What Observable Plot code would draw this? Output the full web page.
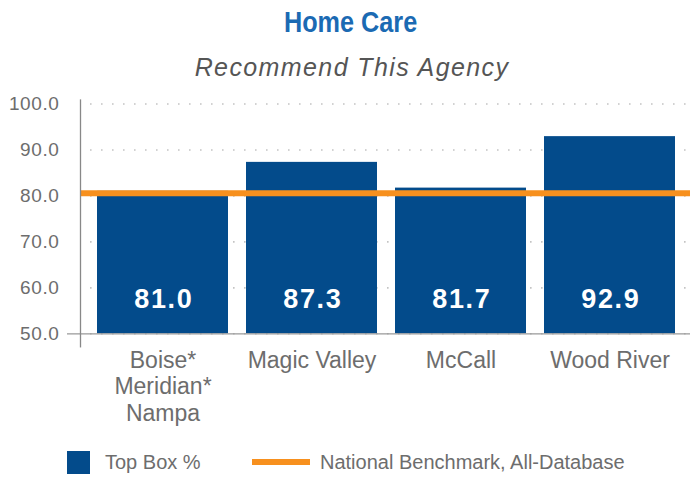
<!DOCTYPE html>
<html>
<head>
<meta charset="utf-8">
<script src="https://cdn.jsdelivr.net/npm/d3@7"></script>
<script src="https://cdn.jsdelivr.net/npm/@observablehq/plot@0.6"></script>
<style>
  html, body { margin: 0; padding: 0; background: #fff; }
  #wrap { width: 690px; height: 478px; position: relative; overflow: hidden; font-family: "Liberation Sans", Arial, Helvetica, sans-serif; }
  #title { height: 44px; line-height: 44px; text-align: center; padding-left: 12px; box-sizing: border-box;
           font-family: "Liberation Sans", Arial, sans-serif;
           font-weight: bold; font-size: 29px; color: #1b6ab3; }
  #title span { display: inline-block; transform: scaleX(0.87); transform-origin: center; }
  #subtitle { height: 46px; line-height: 46px; text-align: center; padding-left: 14px; box-sizing: border-box;
              font-style: italic; font-size: 25px; letter-spacing: 1.4px; color: #555; }
  #chart svg { display: block; }
  #chart g[aria-label="y-axis tick label"] text { letter-spacing: 0.6px; }
  #chart g[aria-label="text"] text { letter-spacing: 1.6px; }
  #legend { position: absolute; left: 0; top: 435px; width: 690px; height: 43px; font-size: 20px; color: #6d6d6d; }
  .sw { position: absolute; }
  .lt { position: absolute; top: 14px; line-height: 26px; white-space: nowrap; }
</style>
</head>
<body>
<div id="wrap">
  <div id="title"><span>Home Care</span></div>
  <div id="subtitle">Recommend This Agency</div>
  <div id="chart"></div>
  <div id="legend">
    <div class="sw" style="left:67px; top:16px; width:23px; height:23px; background:#034b8b;"></div>
    <div class="lt" style="left:105px;">Top Box %</div>
    <div class="sw" style="left:252px; top:24px; width:58px; height:6px; background:#f7901e;"></div>
    <div class="lt" style="left:320px;">National Benchmark, All-Database</div>
  </div>
</div>
<script>
const categories = ["Boise*\nMeridian*\nNampa", "Magic Valley", "McCall", "Wood River"];
const topBox = [81.0, 87.3, 81.7, 92.9];
const benchmark = 80.6;
const yTicks = [50, 60, 70, 80, 90, 100];

const data = categories.map((c, i) => ({name: c, value: topBox[i]}));

const chart = Plot.plot({
  width: 690,
  height: 345,
  marginTop: 13.5,
  marginBottom: 101.7,
  marginLeft: 80,
  marginRight: -3,
  style: {fontFamily: '"Liberation Sans", Arial, Helvetica, sans-serif', background: "transparent"},
  x: {domain: categories, paddingInner: 0.12, paddingOuter: 0.114, label: null},
  y: {domain: [50, 100], label: null},
  marks: [
    Plot.gridY(yTicks, {stroke: "#c4c4c4", strokeOpacity: 1, strokeWidth: 1.6, strokeDasharray: "1.6,9.4", insetLeft: 10}),
    Plot.barY(data, {x: "name", y1: () => yTicks[0], y2: "value", fill: "#034b8b"}),
    Plot.text(data, {x: "name", y: () => yTicks[0], dy: -34.6, dx: 0.8, text: d => d.value.toFixed(1), fill: "white", fontWeight: "bold", fontSize: 27}),
    Plot.ruleY([benchmark], {stroke: "#f7901e", strokeWidth: 6}),
    Plot.ruleY([yTicks[0]], {stroke: "#999", strokeWidth: 1.3, insetLeft: -13}),
    Plot.frame({anchor: "left", stroke: "#888", strokeWidth: 1.3, insetTop: -4, insetBottom: -13}),
    Plot.axisY({ticks: yTicks, tickFormat: d => d.toFixed(1), tickSize: 0, tickPadding: 21, fontSize: 19, fill: "#6d6d6d", label: null}),
    Plot.axisX({tickSize: 0, tickPadding: 15, fontSize: 23, lineHeight: 1.16, fill: "#6d6d6d", label: null})
  ]
});
document.getElementById("chart").appendChild(chart);
</script>
</body>
</html>
